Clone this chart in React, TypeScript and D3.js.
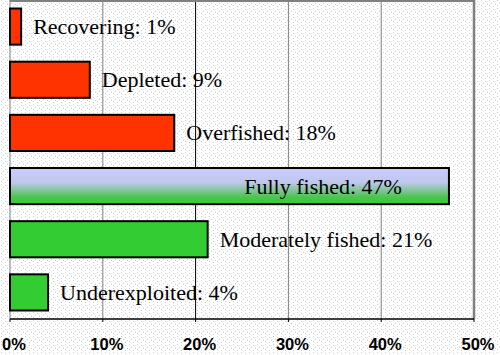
import React from "react";
import * as d3 from "d3";

const categories = ["Recovering", "Depleted", "Overfished", "Fully fished", "Moderately fished", "Underexploited"];
const values = [1.2, 8.6, 17.7, 47.3, 21.3, 4.1];
const labelValues = [1, 9, 18, 47, 21, 4];
const groups = ["red", "red", "red", "gradient", "green", "green"];
const ticks = [0, 10, 20, 30, 40, 50];

const W = 500, H = 355;
const m = { left: 10, right: 26, top: 0, bottom: 36 };

export default function App() {
  const x = d3.scaleLinear().domain([0, 50]).range([m.left, W - m.right]);
  const y = d3.scaleBand<string>().domain(categories).range([m.top, H - m.bottom]).paddingInner(0.32).paddingOuter(0.16);
  const fillOf = (g: string) => (g === "red" ? "#ff3300" : g === "green" ? "#33cc33" : "url(#fullGrad)");
  const y0 = m.top, y1 = H - m.bottom;
  return (
    <svg width={W} height={H} style={{ position: "absolute", left: 0, top: 0 }} xmlns="http://www.w3.org/2000/svg">
      <defs>
        <pattern id="dots" width="8" height="8" patternUnits="userSpaceOnUse">
          <rect x="1" y="0" width="1" height="1" fill="#c4cbee" />
          <rect x="5" y="1" width="1" height="1" fill="#cccccc" />
          <rect x="3" y="3" width="1" height="1" fill="#bcd0e6" />
          <rect x="7" y="4" width="1" height="1" fill="#d0d0d0" />
          <rect x="1" y="5" width="1" height="1" fill="#c8cfee" />
          <rect x="5" y="6" width="1" height="1" fill="#c4c4d2" />
        </pattern>
        <linearGradient id="fullGrad" x1="0" y1="0" x2="0" y2="1">
          <stop offset="0" stopColor="#ccccff" />
          <stop offset="0.4" stopColor="#bfc8ec" />
          <stop offset="0.8" stopColor="#4cc451" />
          <stop offset="1" stopColor="#33cc33" />
        </linearGradient>
      </defs>
      <rect x={0} y={0} width={W} height={H} fill="#ffffff" />
      <rect x={0} y={0} width={W} height={H} fill="url(#dots)" />
      {ticks.slice(1, -1).map((t) => (
        <line key={t} x1={x(t)} x2={x(t)} y1={y0} y2={y1} stroke={t === 20 ? "#000" : "#808080"} strokeWidth={1} />
      ))}
      <line x1={x(0)} x2={x(50)} y1={y0 + 1} y2={y0 + 1} stroke="#808080" strokeWidth={2} />
      <line x1={x(50)} x2={x(50)} y1={y0} y2={y1} stroke="#808080" strokeWidth={2.5} />
      <line x1={x(0)} x2={x(0)} y1={y0} y2={y1} stroke="#808080" strokeWidth={1} />
      {categories.map((c, i) => {
        const by = y(c)!;
        const bw = x(values[i]) - x(0);
        const inside = groups[i] === "gradient";
        const label = `${c}: ${labelValues[i]}%`;
        return (
          <g key={c}>
            <rect x={x(0)} y={by} width={bw} height={y.bandwidth()} fill={fillOf(groups[i])} stroke="#000" strokeWidth={2} />
            <text
              x={inside ? x(values[i]) - 47 : x(values[i]) + 12}
              y={by + y.bandwidth() / 2 + 7.5}
              textAnchor={inside ? "end" : "start"}
              fontFamily="'Liberation Serif', 'Times New Roman', serif"
              fontSize={22}
              fill="#000"
            >
              {label}
            </text>
          </g>
        );
      })}
      <line x1={x(0)} x2={x(50)} y1={y1} y2={y1} stroke="#000" strokeWidth={1.5} />
      {ticks.map((t) => (
        <g key={t}>
          <line x1={x(t)} x2={x(t)} y1={y1} y2={y1 + 3} stroke="#000" strokeWidth={1} />
          <text
            x={x(t) + 4}
            y={H - 5}
            textAnchor="middle"
            fontFamily="'Liberation Sans', Arial, sans-serif"
            fontWeight="bold"
            fontSize={16.5}
            fill="#000"
          >
            {`${t}%`}
          </text>
        </g>
      ))}
    </svg>
  );
}
